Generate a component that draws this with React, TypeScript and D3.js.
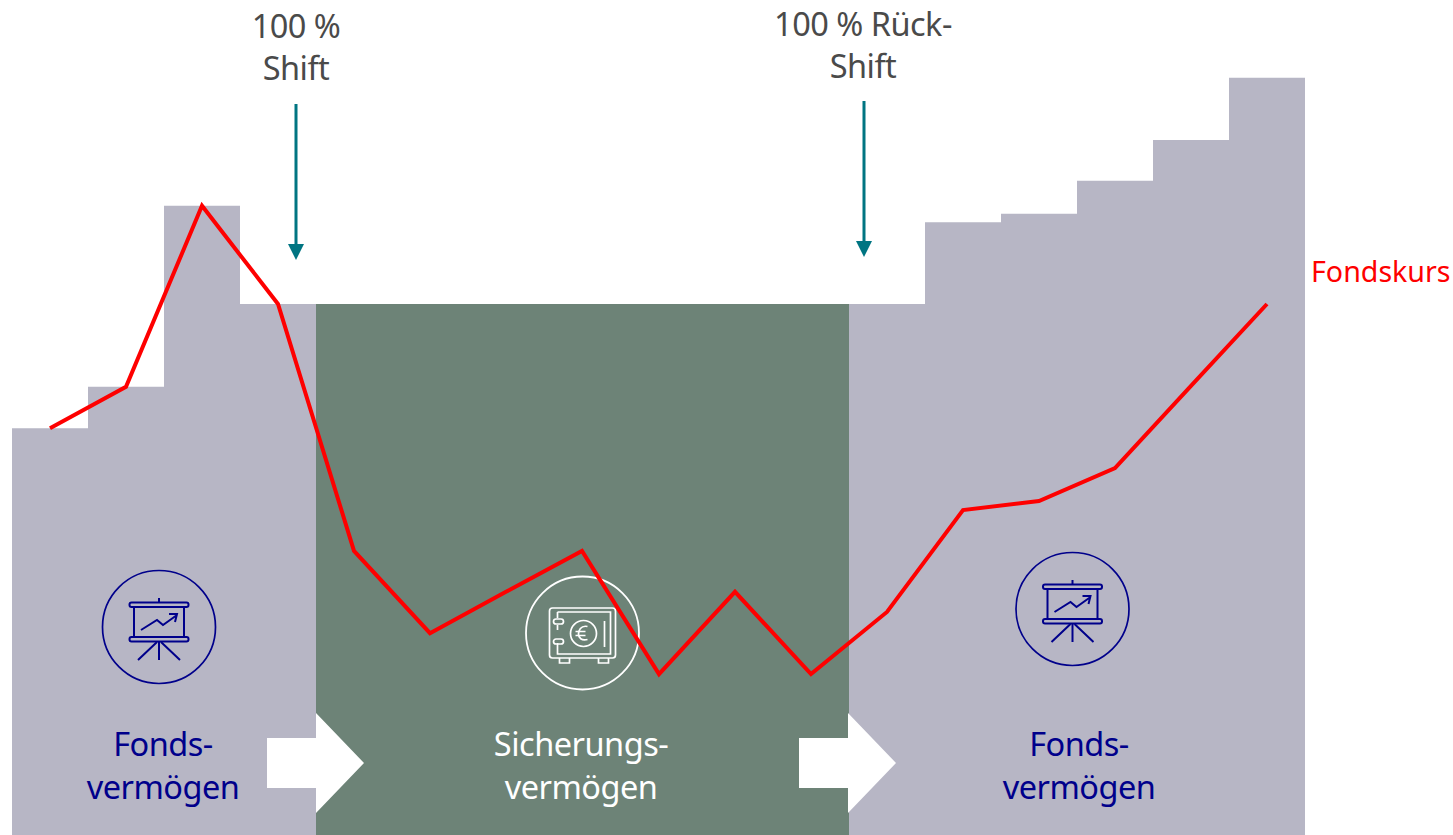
import React from "react";
import * as d3 from "d3";

const W = 1453, H = 835;
const periods = d3.range(0, 17);
const fundLeft = [76.6, 84.4, 118.5, 100];
const guarantee = 100;
const fundRight = [100, 115.4, 117, 123.2, 130.9, 142.6];
const price = [76.6, 84.4, 118.5, 100, 53.5, 38, 45.8, 53.5, 30.3, 45.8, 30.3, 42, 61.2, 62.9, 69.1, 84.6, 100];
const shiftPeriod = 4;
const backPeriod = 11;
const labelFund = ["Fonds-", "vermögen"];
const labelSafe = ["Sicherungs-", "vermögen"];
const labelShift = ["100 %", "Shift"];
const labelBack = ["100 % Rück-", "Shift"];
const labelPrice = "Fondskurs";

const FONT = "'Noto Sans', sans-serif";
const x = d3.scaleLinear().domain([0, 17]).rangeRound([12, 1305]);
const y = d3.scaleLinear().domain([0, 100]).range([835, 304]);
const mid = (i: number) => x(i + 0.5);

const NAVY = "#00008b", GREEN = "#6d8377", LILAC = "#b7b6c5", TEAL = "#007582", RED = "#fe0000", GREY = "#4a4a4a";

const stepArea = d3.area<[number, number]>().x(d => x(d[0])).y0(y(0)).y1(d => y(d[1])).curve(d3.curveStepAfter);
const series = (vals: number[], start: number): [number, number][] => [
  ...vals.map((v, i) => [start + i, v] as [number, number]),
  [start + vals.length, vals[vals.length - 1]],
];
const priceLine = d3.line<number>().x((_, i) => mid(periods[i])).y(d => y(d));

function Presenter({ cx, cy }: { cx: number; cy: number }) {
  return (
    <g transform={`translate(${cx},${cy})`} fill="none" stroke={NAVY} strokeWidth={2}>
      <circle r={56.5} strokeWidth={1.7} />
      <path d="M0,-29V-24" />
      <rect x={-29.5} y={-24.5} width={59} height={4.5} rx={2} />
      <rect x={-29.5} y={10} width={59} height={4.5} rx={2} />
      <path d="M-25,-20V10M25,-20V10" />
      <path d="M-18,3L-2,-7L4,-2L18,-12M10,-13L18,-13L16,-5" />
      <path d="M0,15V33M-2,15L-21,33M2,15L21,33" />
    </g>
  );
}

function Safe({ cx, cy }: { cx: number; cy: number }) {
  return (
    <g transform={`translate(${cx},${cy})`} fill="none" stroke="#fff" strokeWidth={1.7}>
      <circle r={56.5} strokeWidth={1.8} />
      <rect x={-33} y={-25} width={66} height={50} rx={3} />
      <path d="M-25,-21H28V21H-25V10M-25,-3V-8M-25,-15V-21" />
      <rect x={-29} y={-14} width={10} height={5} rx={2.5} />
      <rect x={-29} y={6} width={10} height={5} rx={2.5} />
      <circle cx={1} cy={0.5} r={13} />
      <path d="M5,-6.5C-2,-8 -4,-2 -4,1C-4,5 -1,8 5,6.5M-7,-1.5H3M-7,2.5H3" />
      <path d="M22,-12V14" />
      <path d="M-23,25V30H-13V25M16,25V30H26V25" />
    </g>
  );
}

function BlockArrow({ tip, yc }: { tip: number; yc: number }) {
  const p = d3.path();
  p.moveTo(tip - 97, yc - 25);
  p.lineTo(tip - 48, yc - 25);
  p.lineTo(tip - 48, yc - 50);
  p.lineTo(tip, yc);
  p.lineTo(tip - 48, yc + 50);
  p.lineTo(tip - 48, yc + 25);
  p.lineTo(tip - 97, yc + 25);
  p.closePath();
  return <path d={p.toString()} fill="#fff" />;
}

function DownArrow({ px, y0, y1 }: { px: number; y0: number; y1: number }) {
  return (
    <g fill={TEAL}>
      <rect x={px - 1.5} y={y0} width={3} height={y1 - y0 - 12} />
      <path d={`M${px - 8},${y1 - 16}H${px + 8}L${px},${y1}Z`} />
    </g>
  );
}

function Lines({ px, lines, y0, fill, size = 32.5, ls = -0.5, step = 43 }: { px: number; lines: string[]; y0: number; fill: string; size?: number; ls?: number; step?: number }) {
  return (
    <text textAnchor="middle" fontFamily={FONT} fontSize={size} fill={fill} letterSpacing={ls}>
      {lines.map((l, i) => <tspan key={i} x={px} y={y0 + i * step}>{l}</tspan>)}
    </text>
  );
}

export default function App() {
  return (
    <svg width={W} height={H} viewBox={`0 0 ${W} ${H}`} style={{ position: "absolute", left: 0, top: 0, display: "block" }}>
      <path d={stepArea(series(fundLeft, 0)) ?? ""} fill={LILAC} />
      <rect x={x(4)} y={y(guarantee)} width={x(11) - x(4)} height={y(0) - y(guarantee)} fill={GREEN} />
      <path d={stepArea(series(fundRight, 11)) ?? ""} fill={LILAC} />
      <Presenter cx={159} cy={627} />
      <Safe cx={582.5} cy={633} />
      <Presenter cx={1072.5} cy={609} />
      <path d={priceLine(price) ?? ""} fill="none" stroke={RED} strokeWidth={4} strokeLinejoin="miter" />
      <BlockArrow tip={x(shiftPeriod) + 48} yc={763} />
      <BlockArrow tip={x(backPeriod) + 47} yc={763} />
      <DownArrow px={296} y0={104} y1={260} />
      <DownArrow px={864} y0={101} y1={257} />
      <Lines px={296} lines={labelShift} y0={38} fill={GREY} step={42} />
      <Lines px={863} lines={labelBack} y0={36} fill={GREY} step={42} />
      <Lines px={163} lines={labelFund} y0={756} fill={NAVY} />
      <Lines px={581} lines={labelSafe} y0={756} fill="#fff" />
      <Lines px={1079} lines={labelFund} y0={756} fill={NAVY} />
      <text x={1311} y={282} fontFamily={FONT} fontSize={28.6} fill={RED}>{labelPrice}</text>
    </svg>
  );
}
